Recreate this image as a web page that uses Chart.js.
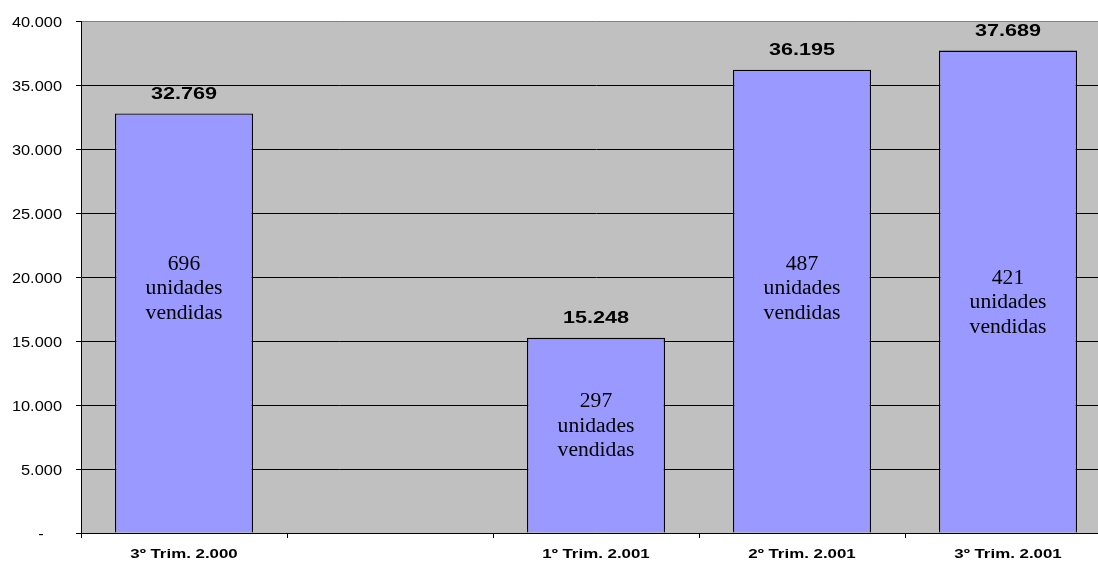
<!DOCTYPE html>
<html>
<head>
<meta charset="utf-8">
<script src="https://cdn.jsdelivr.net/npm/chart.js@4"></script>
<style>
  html, body { margin: 0; padding: 0; background: #fff; overflow: hidden; }
  #wrap { width: 1120px; height: 561px; position: relative; }
</style>
</head>
<body>
<div id="wrap"><canvas id="salesChart"></canvas></div>
<script>
const trimestres = ["3º Trim. 2.000", "", "1º Trim. 2.001", "2º Trim. 2.001", "3º Trim. 2.001"];
const ventas = [32769, null, 15248, 36195, 37689];
const unidades = [696, null, 297, 487, 421];
const yTicks = [0, 5000, 10000, 15000, 20000, 25000, 30000, 35000, 40000];

const fmt = v => String(v).replace(/\B(?=(\d{3})+(?!\d))/g, ".");
const SANS = "'Liberation Sans', Arial, sans-serif";
const SERIF = "'Liberation Serif', 'Times New Roman', serif";

// the original text is a bit wide, so draw it stretched horizontally
function wideText(ctx, text, x, y, font, sx, align) {
    ctx.save();
    ctx.font = font;
    ctx.textAlign = align;
    ctx.textBaseline = "alphabetic";
    ctx.fillStyle = "#000";
    ctx.translate(x, y);
    ctx.scale(sx, 1);
    ctx.fillText(text, 0, 0);
    ctx.restore();
}

// gray plot background
const plotBg = {
    id: "plotBg",
    beforeDraw(chart) {
        const { ctx, chartArea: a } = chart;
        ctx.save();
        ctx.fillStyle = "#C0C0C0";
        ctx.fillRect(a.left, a.top, a.right - a.left, a.bottom - a.top);
        ctx.restore();
    }
};

// axis labels drawn by hand (tick text itself is left transparent)
const axisText = {
    id: "axisText",
    afterDraw(chart) {
        const ctx = chart.ctx;
        const y = chart.scales.y, x = chart.scales.x;
        y.ticks.forEach(t => {
            const py = y.getPixelForValue(t.value);
            const label = t.value === 0 ? "-    " : fmt(t.value);
            wideText(ctx, label, 62, py + 6, "14px " + SANS, 1.17, "right");
        });
        trimestres.forEach((lab, i) => {
            if (!lab) return;
            wideText(ctx, lab, x.getPixelForValue(i), 558, "bold 13.5px " + SANS, 1.25, "center");
        });
    }
};

// value on top + units note inside each bar
const barText = {
    id: "barText",
    afterDatasetsDraw(chart, args, opts) {
        const ctx = chart.ctx;
        const meta = chart.getDatasetMeta(0);
        const ys = chart.scales.y;
        meta.data.forEach((bar, i) => {
            if (ventas[i] == null) return;
            wideText(ctx, fmt(ventas[i]), bar.x, bar.y - 14.5, "bold 16px " + SANS, 1.35, "center");

            const mid = ys.getPixelForValue(opts.noteAt[i]);
            const lines = [String(unidades[i]), "unidades", "vendidas"];
            lines.forEach((t, k) => {
                wideText(ctx, t, bar.x, mid + 6 + (k - 1) * 24.5, "20px " + SERIF, 1.08, "center");
            });
        });
    }
};

new Chart(document.getElementById("salesChart"), {
    type: "bar",
    data: {
        labels: trimestres,
        datasets: [{
            data: ventas,
            backgroundColor: "#9999FF",
            borderColor: "#000",
            borderWidth: 1.3,
            categoryPercentage: 1,
            barPercentage: 0.67
        }]
    },
    options: {
        responsive: true,
        maintainAspectRatio: false,
        animation: false,
        layout: { padding: { left: 0, top: 21, right: 9, bottom: 0 } },
        plugins: {
            legend: { display: false },
            tooltip: { enabled: false },
            barText: { noteAt: [19140, null, 8360, 19140, 18040] }
        },
        scales: {
            x: {
                offset: true,
                grid: { display: true, drawOnChartArea: false, drawTicks: true, tickLength: 5, tickColor: "#000", offset: true },
                border: { display: true, color: "#000", width: 1 },
                ticks: {
                    color: "rgba(0,0,0,0)",
                    padding: 6,
                    maxRotation: 0,
                    autoSkip: false,
                    font: { family: SANS, size: 11, weight: "bold" }
                },
                afterFit: s => { s.height = 28; }
            },
            y: {
                min: 0,
                max: 40000,
                afterBuildTicks: s => { s.ticks = yTicks.map(v => ({ value: v })); },
                grid: {
                    color: c => c.tick && c.tick.value === 40000 ? "#808080" : "#000",
                    lineWidth: 1,
                    tickLength: 5,
                    tickColor: "#000"
                },
                border: { display: true, color: "#000", width: 1 },
                ticks: {
                    color: "rgba(0,0,0,0)",
                    padding: 13,
                    font: { family: SANS, size: 13 },
                    callback: v => fmt(v)
                },
                afterFit: s => { s.width = 81; }
            }
        }
    },
    plugins: [plotBg, axisText, barText]
});
</script>
</body>
</html>
